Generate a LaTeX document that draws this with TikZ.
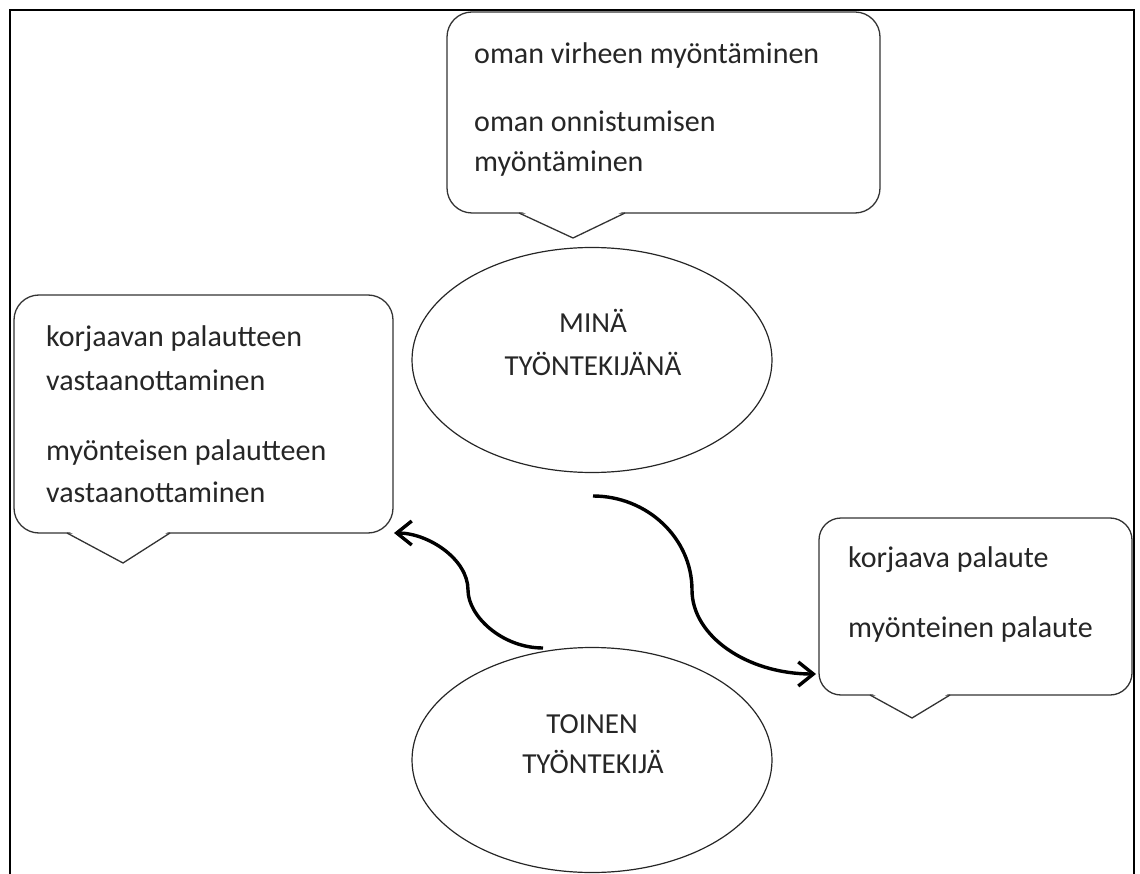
\documentclass[tikz,border=0pt]{standalone}
\usepackage{fontspec}
\setmainfont{Carlito}
\usetikzlibrary{shapes.geometric,arrows.meta}
\begin{document}
\begin{tikzpicture}[x=1pt,y=-1pt,
  bubble/.style={draw=black!80, line width=1.3pt},
  btext/.style={anchor=base west, inner sep=0pt, font=\fontsize{30}{40}\selectfont, text=black!85},
  etext/.style={anchor=base, inner sep=0pt, font=\fontsize{29}{40}\selectfont, text=black!85},
  oval/.style={ellipse, draw=black!85, line width=1.2pt, minimum width=360pt, minimum height=225pt, inner sep=0pt},
  flow/.style={line width=3.4pt, -{Straight Barb[length=15pt,width=24pt]}}]
\useasboundingbox (0,0) rectangle (1140,874);
% frame
\draw[line width=1.5pt] (10,874) -- (10,10) -- (1134,10) -- (1134,874);

% top bubble
\draw[bubble, rounded corners=25pt] (447,12) rectangle (880,213);
\fill[white] (518,210) -- (626,210) -- (573,236) -- cycle;
\draw[bubble, line join=miter] (519,213) -- (573,238) -- (625,213);
\node[btext] (t1) at (474,64) {oman virheen myöntäminen};
\node[btext] (t2) at (474,132) {oman onnistumisen};
\node[btext] (t3) at (474,172) {myöntäminen};

% left bubble
\draw[bubble, rounded corners=25pt] (14,295) rectangle (393,533);
\fill[white] (66,530) -- (171,530) -- (123,561) -- cycle;
\draw[bubble, line join=miter] (67,533) -- (123,563) -- (170,533);
\node[btext] (l1) at (46,347) {korjaavan palautteen};
\node[btext] (l2) at (46,390) {vastaanottaminen};
\node[btext] (l3) at (46,460) {myönteisen palautteen};
\node[btext] (l4) at (46,502) {vastaanottaminen};

% right bubble
\draw[bubble, rounded corners=22pt] (819,518) rectangle (1132,695);
\fill[white] (869,692) -- (951,692) -- (912,716) -- cycle;
\draw[bubble, line join=miter] (870,695) -- (912,718) -- (950,695);
\node[btext] (r1) at (848,567) {korjaava palaute};
\node[btext] (r2) at (848,637) {myönteinen palaute};

% ellipses
\node[oval] (me) at (592,360) {};
\node[etext] (me1) at (593,333) {MINÄ};
\node[etext] (me2) at (593,375) {TYÖNTEKIJÄNÄ};
\node[oval] (other) at (592,760) {};
\node[etext] (ot1) at (592,733) {TOINEN};
\node[etext] (ot2) at (593,773) {TYÖNTEKIJÄ};

% arrows
\coordinate (s1) at (593,496);
\coordinate (e1) at (816,674);
\draw[flow] (s1) .. controls (647,496) and (692,538) .. (692,590) .. controls (692,636) and (747,674) .. (e1);
\coordinate (s2) at (543,648);
\coordinate (e2) at (394,533);
\draw[flow] (s2) .. controls (502,648) and (468,616) .. (468,590) .. controls (468,559) and (428,533) .. (e2);
\end{tikzpicture}
\end{document}
